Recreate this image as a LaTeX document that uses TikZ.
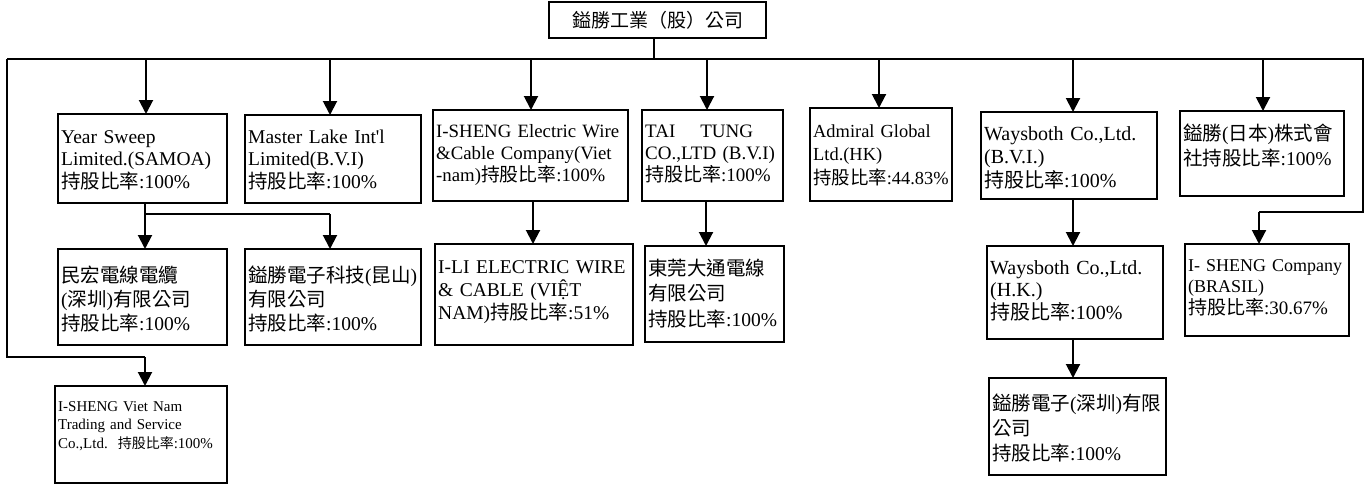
\documentclass[tikz,border=0pt]{standalone}
\usepackage{fontspec}
\setmainfont{Liberation Serif}[Ligatures=TeXOff]
\newfontfamily\cjk{Noto Sans CJK TC}
\usetikzlibrary{arrows.meta}
\tikzset{
  orgbox/.style={draw, line width=1.6pt, inner sep=0pt, outer sep=0pt},
  arr/.style={line width=2pt, -{Triangle[width=14pt,length=14pt]}},
  thinline/.style={line width=1.3pt},
  busline/.style={line width=2pt},
  lbl/.style={anchor=base west, inner sep=0pt, align=left, text width=400pt}
}
% name, x1, y1, x2, y2
\newcommand\mkbox[5]{\node[orgbox, anchor=north west, minimum width={#4-#2}, minimum height={#5-#3}] (#1) at (#2,#3) {};}
% name, font size, skip, offset, text
\newcommand\mklbl[5]{\node[lbl, font=\fontsize{#2}{#3}\selectfont] at ([xshift=3pt,yshift=-#4pt]#1.north west) {#5};}
\newcommand\cg[1]{{\cjk #1}}
\begin{document}
\begin{tikzpicture}[x=1pt,y=-1pt]
\useasboundingbox (0,0) rectangle (1370,485);
% top
\node[orgbox, minimum width=217, minimum height=36] (top) at (657.5,20) {\fontsize{19}{22}\selectfont\cg{鎰勝工業（股）公司}};
% row 1
\mkbox{ys}{58}{114}{227}{203}
\mkbox{ml}{245}{115}{421}{203}
\mkbox{ise}{433}{110}{628}{201}
\mkbox{tt}{642}{110}{783}{201}
\mkbox{ad}{810}{108}{952}{201}
\mkbox{wb}{981}{112}{1157}{199}
\mkbox{jp}{1180}{111}{1344}{196}
% row 2
\mkbox{mh}{58}{249}{227}{345}
\mkbox{ks}{245}{249}{421}{345}
\mkbox{ili}{435}{244}{633}{345}
\mkbox{dg}{645}{246}{784}{342}
\mkbox{wh}{987}{246}{1163}{339}
\mkbox{br}{1185}{244}{1349}{336}
% row 3
\mkbox{vn}{55}{386}{227}{483}
\mkbox{sz}{989}{378}{1166}{475}
% labels
\mklbl{ys}{19.5}{22.5}{29}{Year Sweep\\Limited.(SAMOA)\\\cg{持股比率}:100\%}
\mklbl{ml}{19.5}{22.5}{28}{Master Lake Int'l\\Limited(B.V.I)\\\cg{持股比率}:100\%}
\mklbl{ise}{18.8}{22}{27}{I-SHENG Electric Wire\\\&Cable Company(Viet\\-nam)\cg{持股比率}:100\%}
\mklbl{tt}{19}{22}{27}{TAI\hspace{25pt}TUNG\\CO.,LTD (B.V.I)\\\cg{持股比率}:100\%}
\mklbl{ad}{18.4}{23.5}{29}{Admiral Global\\Ltd.(HK)\\\cg{持股比率}:44.83\%}
\mklbl{wb}{20}{23.5}{28}{Waysboth Co.,Ltd.\\(B.V.I.)\\\cg{持股比率}:100\%}
\mklbl{jp}{19.5}{25}{29}{\cg{鎰勝}(\cg{日本})\cg{株式會}\\\cg{社持股比率}:100\%}
\mklbl{mh}{19.5}{24}{33}{\cg{民宏電線電纜}\\(\cg{深圳})\cg{有限公司}\\\cg{持股比率}:100\%}
\mklbl{ks}{19.5}{24}{33}{\cg{鎰勝電子科技}(\cg{昆山})\\\cg{有限公司}\\\cg{持股比率}:100\%}
\mklbl{ili}{19.5}{23}{29}{I-LI ELECTRIC WIRE\\\& CABLE (VIỆT\\NAM)\cg{持股比率}:51\%}
\mklbl{dg}{19.5}{25.5}{29}{\cg{東莞大通電線}\\\cg{有限公司}\\\cg{持股比率}:100\%}
\mklbl{wh}{20}{22.5}{28}{Waysboth Co.,Ltd.\\(H.K.)\\\cg{持股比率}:100\%}
\mklbl{br}{18}{21.5}{27}{I- SHENG Company\\(BRASIL)\\{\fontsize{19}{21.5}\selectfont\cg{持股比率}:30.67\%}}
\mklbl{vn}{15}{18.7}{25}{I-SHENG Viet Nam\\Trading and Service\\Co.,Ltd.\ \ {\fontsize{14}{18.7}\selectfont\cg{持股比率}}:100\%}
\mklbl{sz}{19.5}{25}{32}{\cg{鎰勝電子}(\cg{深圳})\cg{有限}\\\cg{公司}\\\cg{持股比率}:100\%}
% bus
\coordinate (bl) at (7,59);
\coordinate (bt) at (654,59);
\coordinate (be) at (1203,59);
\coordinate (b1) at (146,59);
\coordinate (b2) at (330,59);
\coordinate (b3) at (531,59);
\coordinate (b4) at (707,59);
\coordinate (b5) at (879,59);
\coordinate (b6) at (1073,59);
\coordinate (b7) at (1263,59);
\draw[busline] (bt |- top.south) -- (bt);
\draw[busline] (bl) -- (be);
% right loop to Brasil
\coordinate (rl) at (1363,212);
\coordinate (rb) at (1259,212);
\draw[thinline] (be) -- (1363,59) -- (rl) -- (rb);
\draw[arr] (rb) -- (rb |- br.north);
% left loop to Viet Nam
\coordinate (ll) at (7,357);
\coordinate (lv) at (145,357);
\draw[busline] (bl) -- (ll) -- (lv);
\draw[arr] (lv) -- (lv |- vn.north);
% down arrows from bus
\draw[arr] (b1) -- (b1 |- ys.north);
\draw[arr] (b2) -- (b2 |- ml.north);
\draw[arr] (b3) -- (b3 |- ise.north);
\draw[arr] (b4) -- (b4 |- tt.north);
\draw[arr] (b5) -- (b5 |- ad.north);
\draw[arr] (b6) -- (b6 |- wb.north);
\draw[arr] (b7) -- (b7 |- jp.north);
% second level
\coordinate (ysb) at (145,203);
\coordinate (ysj) at (145,214);
\coordinate (ksj) at (330,214);
\draw[arr] (ysb) -- (ysb |- mh.north);
\draw[thinline] (ysj) -- (ksj);
\draw[arr] (ksj) -- (ksj |- ks.north);
\coordinate (iseb) at (533,201);
\draw[arr] (iseb) -- (iseb |- ili.north);
\coordinate (ttb) at (706,201);
\draw[arr] (ttb) -- (ttb |- dg.north);
\coordinate (wbb) at (1073,199);
\draw[arr] (wbb) -- (wbb |- wh.north);
\coordinate (whb) at (1073,339);
\draw[arr] (whb) -- (whb |- sz.north);
\end{tikzpicture}
\end{document}
